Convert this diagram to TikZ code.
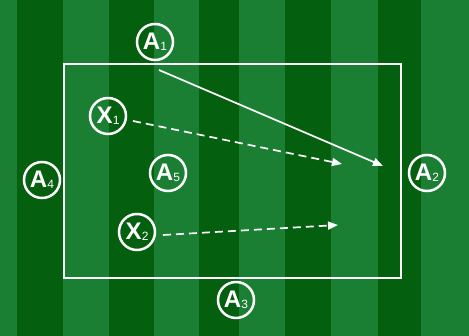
\documentclass[tikz,border=0pt]{standalone}
\usepackage{fontspec}
\setmainfont{Liberation Sans}
\usetikzlibrary{arrows.meta}
\definecolor{gl}{RGB}{26,127,50}
\definecolor{gd}{RGB}{4,95,14}
\begin{document}
\begin{tikzpicture}[x=1pt,y=-1pt,
  player/.style={circle,draw=white,line width=2.5pt,minimum size=36pt,inner sep=0pt,text=white},
  pass/.style={draw=white,line width=1.7pt,-{Triangle[length=10pt,width=8pt]}},
  dpass/.style={pass,dash pattern=on 8pt off 5pt}]
\useasboundingbox (0,0) rectangle (469,336);
\fill[gl] (0,0) rectangle (469,336);
\foreach \a/\b in {17/63,109/154,199/239,285/331,378/421}
  \fill[gd] (\a,0) rectangle (\b,336);
\draw[white,line width=2pt] (64,64) rectangle (401,278);
\newcommand{\plab}[2]{{\fontsize{24}{24}\selectfont\bfseries #1}\kern0.3pt\raisebox{-1pt}{\fontsize{12}{12}\selectfont #2}}
\node[player] (A1) at (155,42) {\plab{A}{1}};
\node[player] (A2) at (427,173) {\plab{A}{2}};
\node[player] (A3) at (236,300) {\plab{A}{3}};
\node[player] (A4) at (42,180) {\plab{A}{4}};
\node[player] (A5) at (168,173) {\plab{A}{5}};
\node[player] (X1) at (108,116) {\plab{X}{1}};
\node[player] (X2) at (137,232) {\plab{X}{2}};
\coordinate (s1) at (159,70);
\coordinate (e1) at (383,166);
\coordinate (s2) at (133,121);
\coordinate (e2) at (342,164);
\coordinate (s3) at (163,235);
\coordinate (e3) at (338,225);
\draw[pass] (s1) -- (e1);
\draw[dpass] (s2) -- (e2);
\draw[dpass] (s3) -- (e3);
\end{tikzpicture}
\end{document}
